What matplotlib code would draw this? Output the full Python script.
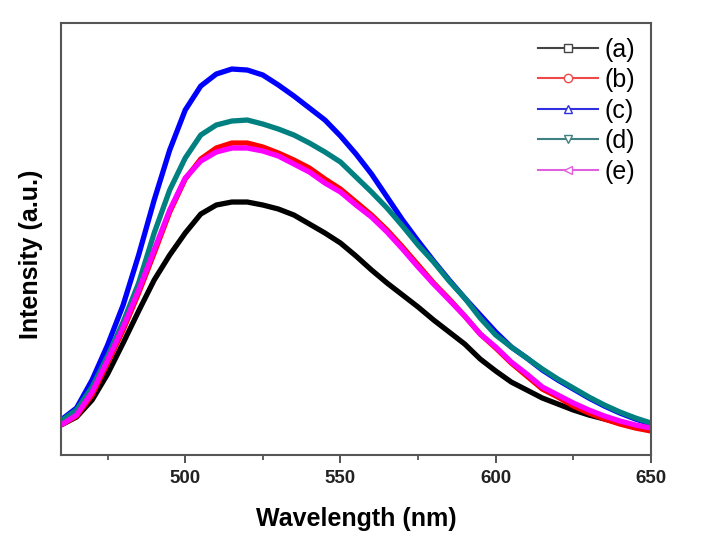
import matplotlib
matplotlib.use("Agg")
import matplotlib.pyplot as plt
from matplotlib.lines import Line2D
import numpy as np

plt.rcParams['font.family'] = ['Liberation Sans', 'DejaVu Sans']

# wavelength grid (nm)
wavelength = np.arange(460, 655, 5)

# intensities (arbitrary units)
spec_a = [30, 38, 55, 81, 112, 144, 175, 200, 222, 241, 250, 253, 253, 250, 246,
          240, 231, 222, 212, 199, 185, 172, 160, 148, 135, 123, 111, 96, 84, 73,
          65, 57, 51, 45, 40, 36, 32, 29, 27]
spec_b = [30, 39, 60, 92, 125, 162, 202, 243, 276, 296, 307, 312, 312, 308, 302,
          295, 287, 276, 266, 253, 240, 225, 208, 190, 172, 156, 139, 121, 107, 92,
          79, 66, 58, 49, 42, 36, 31, 27, 24]
spec_c = [35, 47, 75, 110, 150, 200, 255, 305, 345, 369, 381, 386, 385, 380, 370,
          359, 347, 335, 319, 301, 281, 258, 235, 214, 194, 175, 157, 140, 123, 108,
          97, 85, 75, 66, 57, 49, 42, 36, 31]
spec_d = [34, 45, 68, 99, 133, 172, 222, 265, 297, 320, 330, 334, 335, 331, 326,
          320, 312, 303, 293, 278, 263, 247, 229, 210, 193, 174, 157, 137, 120, 108,
          97, 86, 76, 67, 58, 50, 43, 37, 32]
spec_e = [30, 40, 63, 95, 128, 165, 205, 245, 277, 294, 303, 307, 307, 304, 299,
          291, 283, 272, 263, 250, 238, 223, 206, 188, 171, 155, 139, 121, 108, 93,
          81, 68, 60, 52, 45, 39, 34, 30, 27]

labels = ["(a)", "(b)", "(c)", "(d)", "(e)"]
colors = ["#000000", "#ff0000", "#0000ff", "#008080", "#ff00ff"]
legend_colors = ["#444444", "#f04848", "#3030e0", "#408080", "#e060e0"]
markers = ["s", "o", "^", "v", "<"]

fig = plt.figure(figsize=(7.13, 5.42), dpi=100)
ax = fig.add_axes([0.0856, 0.1605, 0.8274, 0.797])

for spec, c in zip([spec_a, spec_b, spec_c, spec_d, spec_e], colors):
    ax.plot(wavelength, spec, color=c, lw=3.8, solid_joinstyle='round',
            solid_capstyle='butt')

ax.set_xlim(460, 650)
ax.set_ylim(0, 432)
ax.set_xticks([500, 550, 600, 650])
ax.set_xticks([475, 525, 575, 625], minor=True)
ax.set_yticks([])
ax.tick_params(axis='x', which='major', direction='out', length=6, width=1.3,
               color='#444444', labelsize=13.5, pad=5)
ax.tick_params(axis='x', which='minor', direction='out', length=3.5, width=1.2,
               color='#444444')
for t in ax.get_xticklabels():
    t.set_fontweight('bold')
    t.set_color('#222222')
for sp in ax.spines.values():
    sp.set_color('#555555')
    sp.set_linewidth(1.5)

ax.set_xlabel("Wavelength (nm)", fontsize=18, fontweight='bold', labelpad=14)
ax.set_ylabel("Intensity (a.u.)", fontsize=18, fontweight='bold')
ax.yaxis.set_label_coords(-0.031, 0.465)

handles = [Line2D([0], [0], color=lc, lw=1.5, marker=m, markersize=6,
                  markerfacecolor='white', markeredgecolor=lc, markeredgewidth=1.0)
           for lc, m in zip(legend_colors, markers)]
ax.legend(handles, labels, loc='upper left', bbox_to_anchor=(0.808, 0.966),
          frameon=False, fontsize=18, handlelength=2.4, handletextpad=0.28,
          labelspacing=0.26, borderpad=0, borderaxespad=0)

fig.savefig("out.png", dpi=100)
